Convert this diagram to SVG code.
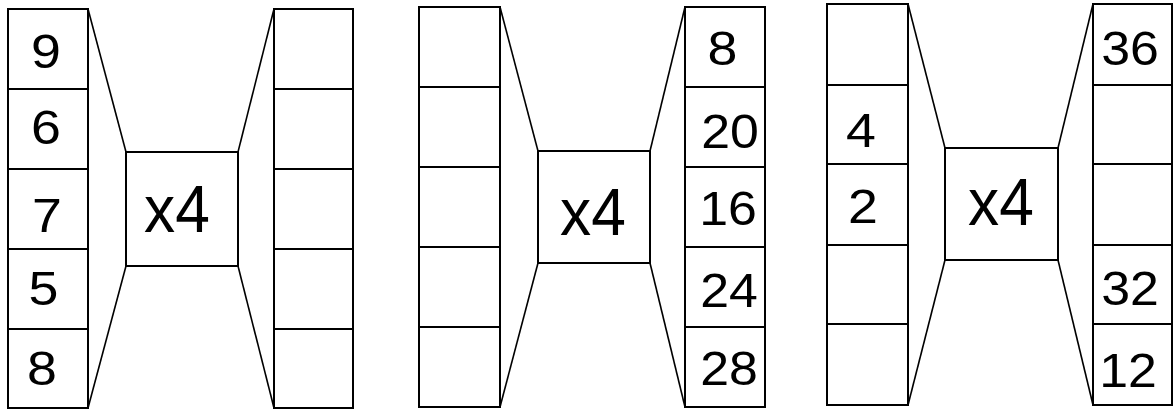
<svg xmlns="http://www.w3.org/2000/svg" width="1174" height="410" viewBox="0 0 1174 410">
<style>
.cell{fill:#fff;stroke:#000;stroke-width:2}
.box{fill:#fff;stroke:#000;stroke-width:2}
.conn{stroke:#000;stroke-width:1.6;fill:none}
.num{font-family:"Liberation Sans",Arial,sans-serif;font-size:48px;fill:#000;text-anchor:middle}
.op{font-family:"Liberation Sans",Arial,sans-serif;font-size:67px;fill:#000;text-anchor:middle}
</style>
<rect width="1174" height="410" fill="#fff"/>
<g id="connectors">
<line class="conn" x1="88" y1="9" x2="126" y2="152"/>
<line class="conn" x1="88" y1="408" x2="126" y2="266"/>
<line class="conn" x1="274" y1="9" x2="238" y2="152"/>
<line class="conn" x1="274" y1="408" x2="238" y2="266"/>
<line class="conn" x1="500" y1="7" x2="538" y2="151"/>
<line class="conn" x1="500" y1="407" x2="538" y2="263"/>
<line class="conn" x1="685" y1="7" x2="650" y2="151"/>
<line class="conn" x1="685" y1="407" x2="650" y2="263"/>
<line class="conn" x1="908" y1="4" x2="945" y2="148"/>
<line class="conn" x1="908" y1="405" x2="945" y2="260"/>
<line class="conn" x1="1093" y1="4" x2="1058" y2="148"/>
<line class="conn" x1="1093" y1="405" x2="1058" y2="260"/>
</g>
<g id="p1-in">
<rect class="cell" x="8" y="9" width="80" height="80"/>
<rect class="cell" x="8" y="89" width="80" height="80"/>
<rect class="cell" x="8" y="169" width="80" height="80"/>
<rect class="cell" x="8" y="249" width="80" height="80"/>
<rect class="cell" x="8" y="329" width="80" height="79"/>
<text class="num" transform="translate(46,68) scale(1.12,1)">9</text>
<text class="num" transform="translate(46,144) scale(1.12,1)">6</text>
<text class="num" transform="translate(47,232) scale(1.12,1)">7</text>
<text class="num" transform="translate(43.5,305) scale(1.12,1)">5</text>
<text class="num" transform="translate(42,385) scale(1.12,1)">8</text>
</g>
<g id="p1-op">
<rect class="box" x="126" y="152" width="112" height="114"/>
<text class="op" transform="translate(177,232) scale(0.93,1)">x4</text>
</g>
<g id="p1-out">
<rect class="cell" x="274" y="9" width="79" height="80"/>
<rect class="cell" x="274" y="89" width="79" height="80"/>
<rect class="cell" x="274" y="169" width="79" height="80"/>
<rect class="cell" x="274" y="249" width="79" height="80"/>
<rect class="cell" x="274" y="329" width="79" height="79"/>
</g>
<g id="p2-in">
<rect class="cell" x="419" y="7" width="81" height="80"/>
<rect class="cell" x="419" y="87" width="81" height="80"/>
<rect class="cell" x="419" y="167" width="81" height="80"/>
<rect class="cell" x="419" y="247" width="81" height="80"/>
<rect class="cell" x="419" y="327" width="81" height="80"/>
</g>
<g id="p2-op">
<rect class="box" x="538" y="151" width="112" height="112"/>
<text class="op" transform="translate(593,235) scale(0.93,1)">x4</text>
</g>
<g id="p2-out">
<rect class="cell" x="685" y="7" width="80" height="80"/>
<rect class="cell" x="685" y="87" width="80" height="80"/>
<rect class="cell" x="685" y="167" width="80" height="80"/>
<rect class="cell" x="685" y="247" width="80" height="80"/>
<rect class="cell" x="685" y="327" width="80" height="80"/>
<text class="num" transform="translate(722.5,65) scale(1.12,1)">8</text>
<text class="num" transform="translate(730,148) scale(1.08,1)">20</text>
<text class="num" transform="translate(728,225) scale(1.08,1)">16</text>
<text class="num" transform="translate(729,307) scale(1.08,1)">24</text>
<text class="num" transform="translate(729,385) scale(1.08,1)">28</text>
</g>
<g id="p3-in">
<rect class="cell" x="827" y="4" width="81" height="81"/>
<rect class="cell" x="827" y="85" width="81" height="79"/>
<rect class="cell" x="827" y="164" width="81" height="81"/>
<rect class="cell" x="827" y="245" width="81" height="79"/>
<rect class="cell" x="827" y="324" width="81" height="81"/>
<text class="num" transform="translate(861,147) scale(1.12,1)">4</text>
<text class="num" transform="translate(863,223) scale(1.12,1)">2</text>
</g>
<g id="p3-op">
<rect class="box" x="945" y="148" width="113" height="112"/>
<text class="op" transform="translate(1001,225) scale(0.93,1)">x4</text>
</g>
<g id="p3-out">
<rect class="cell" x="1093" y="4" width="79" height="81"/>
<rect class="cell" x="1093" y="85" width="79" height="79"/>
<rect class="cell" x="1093" y="164" width="79" height="81"/>
<rect class="cell" x="1093" y="245" width="79" height="79"/>
<rect class="cell" x="1093" y="324" width="79" height="81"/>
<text class="num" transform="translate(1130,65) scale(1.08,1)">36</text>
<text class="num" transform="translate(1130,305) scale(1.08,1)">32</text>
<text class="num" transform="translate(1128,387) scale(1.08,1)">12</text>
</g>
</svg>
